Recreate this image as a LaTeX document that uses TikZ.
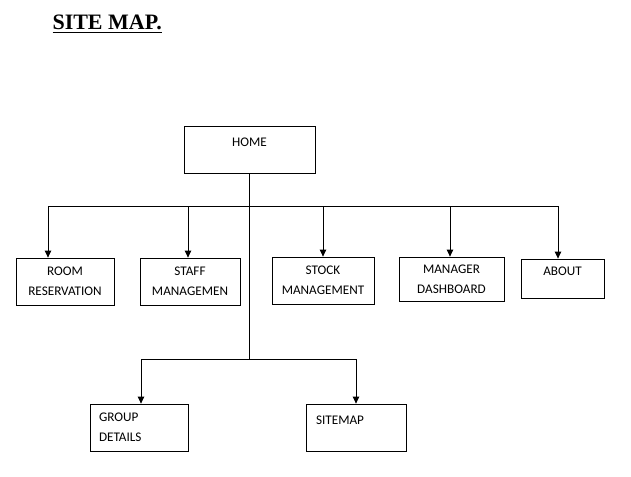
\documentclass[tikz,border=0pt]{standalone}
\usepackage{fontspec}
\usepackage{tikz}
\usetikzlibrary{arrows.meta}
\newfontfamily\boxfont{Carlito}
\newfontfamily\titlefont{Liberation Serif}

\tikzset{
  pagebox/.style = {draw, line width=0.8pt, inner sep=0pt, align=center,
                    font=\boxfont\fontsize{13.2}{20}\selectfont},
  leftbox/.style = {pagebox, align=left, text width=80pt},
  link/.style    = {line width=0.8pt, -{Triangle[width=6.5pt,length=7pt]}}
}
\newcommand{\oneline}[1]{#1\\[-6pt]\mbox{}}

\begin{document}
\begin{tikzpicture}[x=1pt, y=-1pt]
    \useasboundingbox (0,0) rectangle (631,476);  %Seitenrand
    \node [anchor=base west, font=\titlefont\bfseries\fontsize{22}{26}\selectfont] (title) at (49,30) {\underline{SITE MAP.}};
    % Startseite
    \node [pagebox, minimum width=131pt, minimum height=47pt] (home) at (249.5,149.5) {\oneline{HOME}};
    % erste Ebene
    \node [pagebox, minimum width=98pt, minimum height=47pt] (room) at (65,281.5) {ROOM\\RESERVATION};
    \node [pagebox, minimum width=100pt, minimum height=47pt] (staff) at (190,281.5) {STAFF\\MANAGEMEN};
    \node [pagebox, minimum width=102pt, minimum height=47pt] (stock) at (323,280.5) {STOCK\\MANAGEMENT};
    \node [pagebox, minimum width=105pt, minimum height=44pt] (manager) at (451.5,279) {MANAGER\\DASHBOARD};
    \node [pagebox, minimum width=83pt, minimum height=39pt] (about) at (562.5,278.5) {\oneline{ABOUT}};
    % zweite Ebene
    \node [leftbox, minimum width=98pt, minimum height=47pt] (group) at (139,427.5) {GROUP\\DETAILS};
    \node [leftbox, minimum width=100pt, minimum height=47pt] (sitemap) at (356,427.5) {\oneline{SITEMAP}};
    % Verbindungen
    \coordinate (bus) at (home.south |- 0,206);
    \coordinate (split) at (home.south |- 0,359);
    \draw [line width=0.8pt] (home.south) -- (split);
    \draw [link] (bus) -| ([xshift=-17pt]room.north);
    \draw [link] (bus) -| ([xshift=-2pt]staff.north);
    \draw [link] (bus) -| (stock.north);
    \draw [link] (bus) -| ([xshift=-1.5pt]manager.north);
    \draw [link] (bus) -| ([xshift=-4.5pt]about.north);
    \draw [link] (split) -| ([xshift=2pt]group.north);
    \draw [link] (split) -| (sitemap.north);
\end{tikzpicture}
\end{document}
